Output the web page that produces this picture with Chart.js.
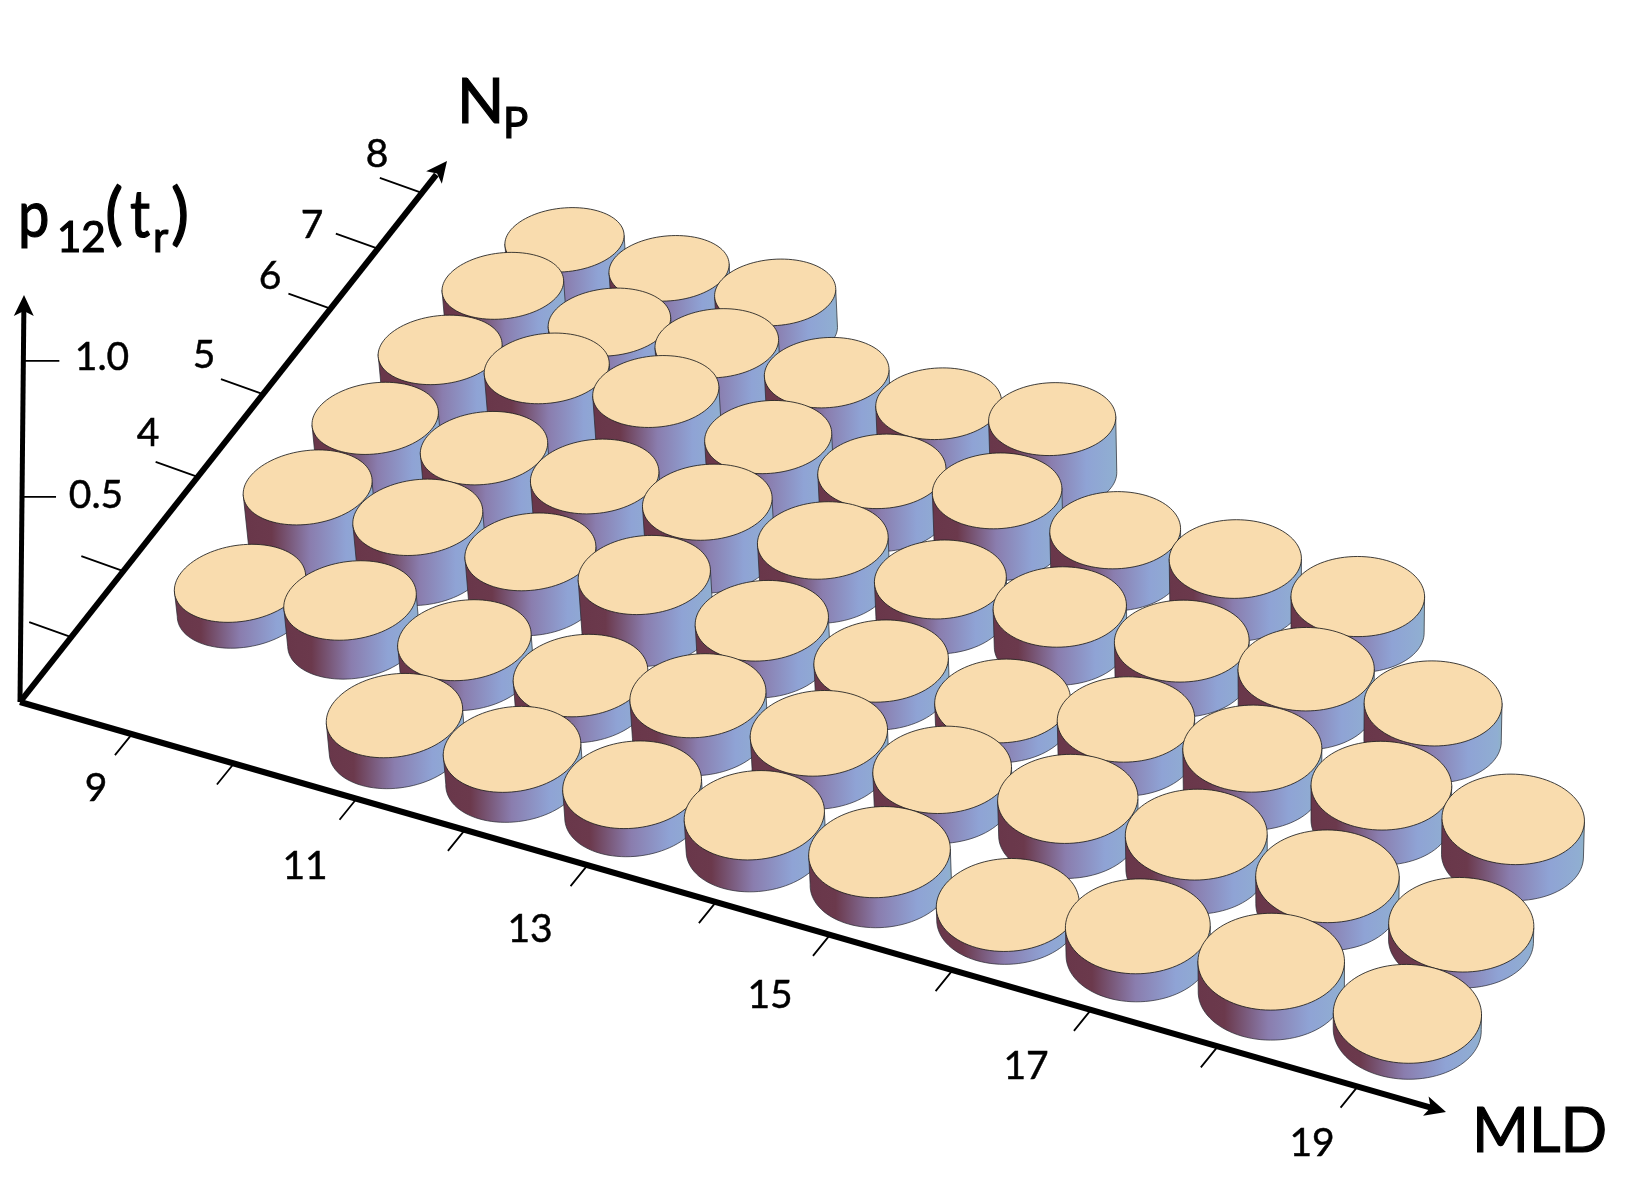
<!DOCTYPE html>
<html>
<head>
<meta charset="utf-8">
<title>p12(tr) over MLD and Np</title>
<script src="https://cdn.jsdelivr.net/npm/chart.js@4/dist/chart.umd.min.js"></script>
<style>
  html, body { margin: 0; padding: 0; background: #fff; }
  canvas { display: block; }
</style>
</head>
<body>
<canvas id="chart" width="1630" height="1186"></canvas>
<script>
// values, null = no cylinder at that MLD
const mldValues = [9, 10, 11, 12, 13, 14, 15, 16, 17, 18, 19];
const p12Np8 = [0.153, 0.137, 0.139, null, null, null, null, null, null, null, null];
const p12Np7 = [0.205, 0.164, 0.180, 0.168, 0.152, 0.193, null, null, null, null, null];
const p12Np6 = [0.198, 0.225, 0.237, 0.172, 0.149, 0.179, 0.143, 0.145, 0.120, null, null];
const p12Np5 = [0.184, 0.175, 0.173, 0.182, 0.150, 0.118, 0.127, 0.116, 0.127, 0.120, null];
const p12Np4 = [0.177, 0.172, 0.153, 0.175, 0.123, 0.092, 0.065, 0.110, 0.122, 0.111, 0.113];
const p12Np3 = [0.088, 0.131, 0.100, 0.086, 0.124, 0.107, 0.096, 0.111, 0.107, 0.087, 0.049];
const p12Np2 = [null, null, 0.101, 0.097, 0.090, 0.101, 0.094, 0.040, 0.086, 0.091, 0.048];
const npRows = [
    [8, p12Np8], [7, p12Np7], [6, p12Np6], [5, p12Np5], [4, p12Np4], [3, p12Np3], [2, p12Np2]
];
const mldTickLabels = ['9', '', '11', '', '13', '', '15', '', '17', '', '19'];
const npTickLabels = ['', '', '4', '5', '6', '7', '8'];
const zTickLabels = ['0.5', '1.0'];

// the axes are hand placed over the 3D plot, so they get their own layout
const ORIGIN = { x: 20, y: 702 };
const TIP_Z = { x: 24, y: 295 };
const TIP_NP = { x: 447, y: 161 };
const TIP_MLD = { x: 1446, y: 1112 };
const MLD_ALONG = [0.0785, 0.150, 0.236, 0.312, 0.398, 0.488, 0.568, 0.654, 0.751, 0.840, 0.938];
const NP_ALONG = [0.120, 0.242, 0.416, 0.569, 0.727, 0.838, 0.941];
const Z_ALONG = [0.504, 0.838];
const MLD_LABEL_AT = [[96, 788], null, [305, 866], null, [530, 929], null, [770, 995], null, [1026, 1066], null, [1312, 1143]];
const NP_LABEL_AT = [null, null, [148, 433], [204, 355], [270, 276], [312, 225], [377, 154]];
const Z_LABEL_AT = [[96, 495], [102, 357]];

const TEXT_FONT = 'Lato, "Open Sans", sans-serif';
const RADIUS = 0.5;
const Z_SCALE = 300;

// plane of the plot: MLD/Np to screen units, mild perspective
function depth(mld, np) {
    return 1 - 0.01 * (mld - 9) + 0.02 * (np - 2);
}

function project(mld, np) {
    const c = mld - 9, r = np - 2, w = depth(mld, np);
    const x = (167.1 + 110 * c + 77.75 * r) / w;
    return {
        x: x + 3.5 - 0.003 * x,
        y: (682.3 + 24.4 * c - 61.35 * r) / w
    };
}

// raise a plane point, verticals lean towards a far vanishing point
function raise(pt, lift) {
    return { x: pt.x + (pt.x - 1300) * lift / 10000, y: pt.y - lift };
}

function along(tip, t) {
    return { x: ORIGIN.x + (tip.x - ORIGIN.x) * t, y: ORIGIN.y + (tip.y - ORIGIN.y) * t };
}

function tickSegments(tip, fractions, dx, dy) {
    const out = [];
    fractions.forEach(t => {
        const p = along(tip, t);
        out.push({ x: p.x, y: p.y }, { x: p.x + dx, y: p.y + dy }, { x: null, y: null });
    });
    return out;
}

const cylinderPoints = [];
npRows.forEach(([np, values]) => {
    values.forEach((p12, i) => {
        if (p12 === null) return;
        const mld = mldValues[i];
        const top = raise(project(mld, np), p12 * Z_SCALE / depth(mld, np));
        cylinderPoints.push({ x: top.x, y: top.y, mld: mld, np: np, p12: p12 });
    });
});

function axisDataset(points, width) {
    return {
        type: 'scatter', data: points, showLine: true, spanGaps: false, clip: false,
        borderColor: '#000', borderWidth: width, pointRadius: 0, borderCapStyle: 'butt', borderJoinStyle: 'miter'
    };
}

function drawCylinder(ctx, xs, ys, pt) {
    const n = 96, bottom = [], top = [];
    const lift = pt.p12 * Z_SCALE / depth(pt.mld, pt.np);
    for (let i = 0; i < n; i++) {
        const a = 2 * Math.PI * i / n;
        const b = project(pt.mld + RADIUS * Math.cos(a), pt.np + RADIUS * Math.sin(a));
        const t = raise(b, lift);
        bottom.push({ x: xs.getPixelForValue(b.x), y: ys.getPixelForValue(b.y) });
        top.push({ x: xs.getPixelForValue(t.x), y: ys.getPixelForValue(t.y) });
    }

    let iMin = 0, iMax = 0;
    bottom.forEach((p, i) => {
        if (p.x < bottom[iMin].x) iMin = i;
        if (p.x > bottom[iMax].x) iMax = i;
    });
    // walk the lower half of the base
    const forward = (iMax - iMin + n) % n;
    const midF = bottom[(iMin + Math.floor(forward / 2)) % n];
    const midB = bottom[(iMin - Math.floor((n - forward) / 2) + n) % n];
    const dir = midF.y > midB.y ? 1 : -1;

    ctx.beginPath();
    let i = iMin;
    ctx.moveTo(top[iMin].x, top[iMin].y);
    ctx.lineTo(bottom[iMin].x, bottom[iMin].y);
    while (i !== iMax) {
        i = (i + dir + n) % n;
        ctx.lineTo(bottom[i].x, bottom[i].y);
    }
    ctx.lineTo(top[iMax].x, top[iMax].y);

    const grad = ctx.createLinearGradient(bottom[iMin].x, 0, bottom[iMax].x, 0);
    grad.addColorStop(0, '#69374a');
    grad.addColorStop(0.18, '#6b394c');
    grad.addColorStop(0.48, '#8a7dae');
    grad.addColorStop(0.76, '#8fa3d5');
    grad.addColorStop(0.97, '#90aed2');
    grad.addColorStop(1, '#8fb3c9');
    ctx.fillStyle = grad;
    ctx.fill();
    ctx.strokeStyle = 'rgba(40,40,50,0.8)';
    ctx.lineWidth = 0.9;
    ctx.stroke();

    ctx.beginPath();
    top.forEach((p, k) => (k ? ctx.lineTo(p.x, p.y) : ctx.moveTo(p.x, p.y)));
    ctx.closePath();
    ctx.fillStyle = '#f9dcae';
    ctx.fill();
    ctx.strokeStyle = 'rgba(30,30,30,0.85)';
    ctx.lineWidth = 1;
    ctx.stroke();
}

function drawArrowHead(ctx, xs, ys, tip) {
    const x = xs.getPixelForValue(tip.x), y = ys.getPixelForValue(tip.y);
    const ox = xs.getPixelForValue(ORIGIN.x), oy = ys.getPixelForValue(ORIGIN.y);
    ctx.save();
    ctx.translate(x, y);
    ctx.rotate(Math.atan2(y - oy, x - ox));
    ctx.beginPath();
    ctx.moveTo(0, 0);
    ctx.lineTo(-21, 10);
    ctx.lineTo(-16, 0);
    ctx.lineTo(-21, -10);
    ctx.closePath();
    ctx.fillStyle = '#000';
    ctx.fill();
    ctx.restore();
}

// each run is [text, font size, x, baseline y, horizontal squeeze]
function drawRuns(ctx, runs) {
    ctx.textAlign = 'left';
    ctx.textBaseline = 'alphabetic';
    ctx.lineWidth = 1.2;
    ctx.strokeStyle = '#000';
    runs.forEach(([text, size, x, y, squeeze]) => {
        ctx.font = size + 'px ' + TEXT_FONT;
        const w = ctx.measureText(text).width * squeeze;
        ctx.fillText(text, x, y, w);
        ctx.strokeText(text, x, y, w);
    });
}

function drawTick(ctx, xs, ys, text, at) {
    const x = xs.getPixelForValue(at[0]), y = ys.getPixelForValue(at[1]);
    ctx.fillText(text, x, y);
    ctx.strokeText(text, x, y);
}

const cylinderPlugin = {
    id: 'cylinders',
    afterDatasetsDraw(chart) {
        const ctx = chart.ctx, xs = chart.scales.x, ys = chart.scales.y;
        const sorted = cylinderPoints.slice().sort((a, b) =>
            project(a.mld, a.np).y - project(b.mld, b.np).y);
        ctx.save();
        sorted.forEach(pt => drawCylinder(ctx, xs, ys, pt));
        ctx.restore();
    },
    afterDraw(chart) {
        const ctx = chart.ctx, xs = chart.scales.x, ys = chart.scales.y;
        ctx.save();
        [TIP_Z, TIP_NP, TIP_MLD].forEach(tip => drawArrowHead(ctx, xs, ys, tip));

        ctx.fillStyle = '#000';
        ctx.strokeStyle = '#000';
        ctx.lineWidth = 0.5;
        ctx.textAlign = 'center';
        ctx.textBaseline = 'middle';
        ctx.font = '39px ' + TEXT_FONT;
        mldTickLabels.forEach((s, i) => { if (s) drawTick(ctx, xs, ys, s, MLD_LABEL_AT[i]); });
        npTickLabels.forEach((s, i) => { if (s) drawTick(ctx, xs, ys, s, NP_LABEL_AT[i]); });
        zTickLabels.forEach((s, i) => drawTick(ctx, xs, ys, s, Z_LABEL_AT[i]));

        drawRuns(ctx, [['N', 62, 457, 123, 1], ['P', 42, 503, 138, 1]]);
        drawRuns(ctx, [['MLD', 62, 1472, 1152, 0.99]]);
        drawRuns(ctx, [['p', 66, 18, 237, 0.85], ['12', 42, 57, 252, 1], ['(', 68, 105, 237, 1],
            ['t', 66, 130, 237, 0.85], ['r', 42, 153, 252, 1], [')', 68, 171, 237, 1]]);
        ctx.restore();
    }
};

new Chart(document.getElementById('chart'), {
    type: 'scatter',
    data: {
        datasets: [
            { data: cylinderPoints, pointRadius: 0, showLine: false },
            axisDataset([ORIGIN, along(TIP_Z, 0.965)], 5),
            axisDataset([ORIGIN, along(TIP_NP, 0.975)], 6),
            axisDataset([ORIGIN, along(TIP_MLD, 0.99)], 6),
            axisDataset(tickSegments(TIP_MLD, MLD_ALONG, -17, 21), 1.8),
            axisDataset(tickSegments(TIP_NP, NP_ALONG, -42, -15), 1.8),
            axisDataset(Z_ALONG.map(t => along(TIP_Z, t)).flatMap((p, i) => [
                { x: p.x, y: p.y }, { x: p.x + (i ? 36 : 34), y: p.y }, { x: null, y: null }
            ]), 1.8)
        ]
    },
    options: {
        responsive: false,
        animation: false,
        events: [],
        layout: { padding: 0 },
        plugins: { legend: { display: false }, tooltip: { enabled: false } },
        scales: {
            x: { type: 'linear', min: 0, max: 1630, display: false },
            y: { type: 'linear', min: 0, max: 1186, reverse: true, display: false }
        }
    },
    plugins: [cylinderPlugin]
});
</script>
</body>
</html>
